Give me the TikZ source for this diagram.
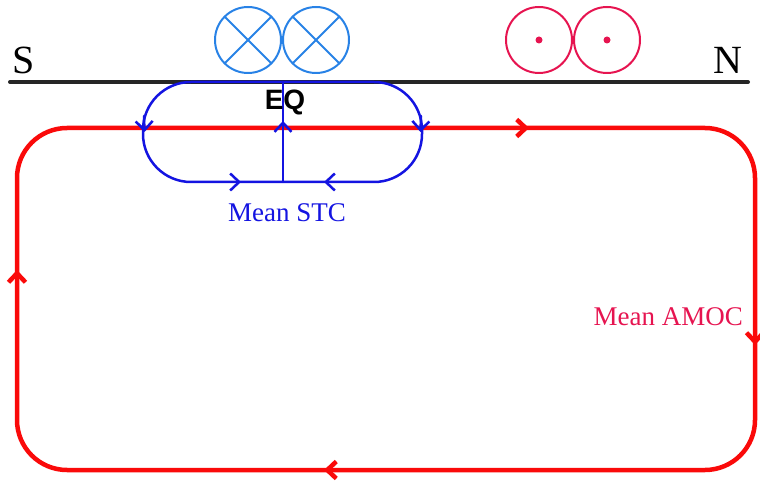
\documentclass[tikz,border=0pt]{standalone}
\usepackage{fontspec}
\setmainfont{Liberation Serif}
\newfontfamily\eqfont{Liberation Sans}
\usetikzlibrary{arrows.meta}
\definecolor{stcblue}{RGB}{20,20,225}
\definecolor{crossblue}{RGB}{40,130,230}
\definecolor{dotpink}{RGB}{230,20,80}
\definecolor{amocred}{RGB}{250,10,10}
\begin{document}
\begin{tikzpicture}[x=1pt, y=-1pt, line join=round, line cap=round,
	>={Straight Barb[length=9pt,width=17pt]}]

	\tikzset{amoc/.style={amocred, line width=4.5pt},
		stc/.style={stcblue, line width=2.5pt},
		label text/.style={font=\fontsize{27}{27}\selectfont, inner sep=0pt}}

	\useasboundingbox (0,0) rectangle (760,486);

	% surface
	\draw[black!85, line width=4pt] (10,82) -- (748,82);
	\node[font=\fontsize{40}{40}\selectfont, inner sep=0pt, anchor=base] (south) at (24,74) {S};
	\node[font=\fontsize{40}{40}\selectfont, inner sep=0pt, anchor=base] (north) at (728,74) {N};

	% winds
	\foreach \cx in {248,316}
	{
	\draw[crossblue, line width=2pt] (\cx,40) circle (33);
	\draw[crossblue, line width=2pt] (\cx-23,17) -- (\cx+23,63) (\cx-23,63) -- (\cx+23,17);
	}
	\foreach \cx in {539,607}
	{
	\draw[dotpink, line width=2pt] (\cx,40) circle (33);
	\fill[dotpink] (\cx,40) circle (3.5);
	}

	% AMOC
	\draw[amoc, rounded corners=50] (17,128) rectangle (755,470);
	\draw[amoc, ->] (500,128) -- (529,128);
	\draw[amoc, ->] (17,300) -- (17,270);
	\draw[amoc, ->] (755,320) -- (755,345);
	\draw[amoc, ->] (350,470) -- (324,470);
	\node[label text, dotpink, anchor=base east] (amoctext) at (743,325) {Mean AMOC};

	% STC
	\draw[stc, rounded corners=48] (143,82) rectangle (422,182);
	\draw[stc] (283,82) -- (283,182);
	\draw[stc, ->] (283,150) -- (283,121);
	\draw[stc, ->] (144,116) -- (144.5,132);
	\draw[stc, ->] (421,116) -- (420.5,132);
	\draw[stc, ->] (215,182) -- (241,182);
	\draw[stc, ->] (350,182) -- (324,182);
	\node[label text, stcblue, anchor=base] (stctext) at (287,222) {Mean STC};
	\node[font=\eqfont\bfseries\fontsize{28}{28}\selectfont, inner sep=0pt, anchor=base] (eq) at (285,110) {EQ};
\end{tikzpicture}
\end{document}
